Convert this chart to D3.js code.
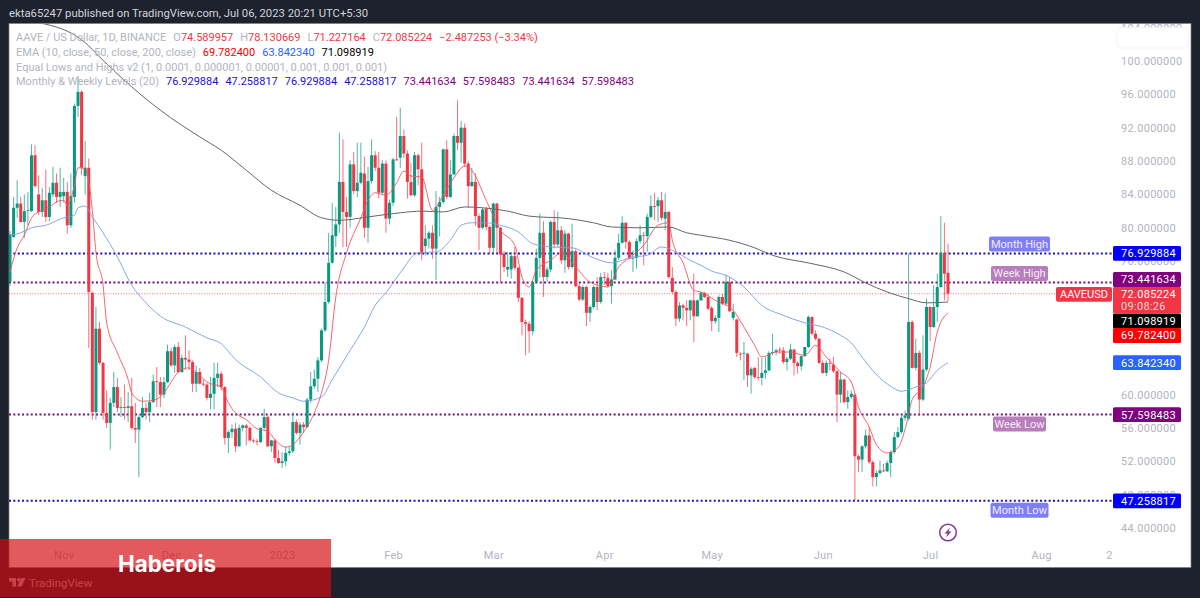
<!DOCTYPE html>
<html>
<head>
<meta charset="utf-8">
<script src="https://cdn.jsdelivr.net/npm/d3@7"></script>
<style>
  html, body { margin: 0; padding: 0; background: #1e222d; }
  svg { display: block; font-family: Roboto, "Liberation Sans", sans-serif; }
  .axis text { fill: #b2b5be; font-size: 11px; letter-spacing: 0.3px; font-family: Roboto, sans-serif; }
  .axis .domain { display: none; }
  .legend text { font-size: 11px; fill: #b2b5be; }
</style>
</head>
<body>
<svg id="chart" width="1200" height="598"></svg>
<script>
/* DATA: one value per daily candle, starting at the left edge of the chart */

const opens = [
  73.5,78.9,82.4,82.9,80.7,82,82,88.7,84,81.9,
  83.3,81.3,84,85.4,83.7,83.8,84.3,80.3,83.7,94.6,
  96.3,86.2,87.2,72.2,57.9,67.9,63.8,57.8,56.6,59,
  60.9,58.4,58.5,58.4,58.6,56,55.8,57.3,58.4,57.9,
  59.1,61.6,61.5,60,61.5,65.2,63.5,65.7,62.7,64.4,
  64.2,63.9,61.3,62.7,61.3,61.2,59.6,60.1,62,62.5,
  60.9,54.8,55.5,55.9,53.8,56,56.3,56,54.5,54.4,
  54.3,56,57.3,53.8,54.5,52.4,51.8,52,53,53.2,
  56.7,55.4,56.4,56.1,59.4,61,61.9,64.1,67.7,71.1,
  75.8,79,80.4,85.5,81.9,81.3,87.6,84.4,85.4,86.5,
  80,85.6,88.7,87.2,84.2,87.7,81.1,83,88.2,88.4,
  91,88.9,85.5,83.9,88.7,87,77.8,78.7,79.4,77.5,
  82.5,83.1,89.4,83.7,86.4,91,90.2,92,87.7,85,
  85.5,81.4,80,82.3,80.1,77.6,82.9,80,76.9,75,
  75,76.6,75.2,71.6,68.7,68.5,67.6,73.5,76.4,79.4,
  74.1,75,80.7,78,79.7,76.1,79.3,75.3,77.2,73,
  71.4,72.9,69.8,70.5,72.9,71.1,74.1,74,73,73.8,
  76.4,78.2,80.6,78.3,76.3,76.4,78.4,79.1,79,81.3,
  82.6,82.6,83.3,81.1,81.9,74,72.3,69.1,70.7,70.4,
  70.1,71.3,69.4,71.3,72.2,71.7,70.4,68.8,69.2,71.7,
  70.9,73.5,69.2,69,64.9,64.9,64.9,62.3,63.2,62.1,
  62,62.6,62.9,65,65.1,65.4,65.3,63.9,64.3,65.4,
  63.8,63.4,64.6,65.7,69.3,67.3,66.7,63.8,62.6,63.8,
  63.6,62.8,60,61.8,59.1,59.7,60,52.6,52.2,53.8,
  55.1,51.9,50.1,50.6,50.9,50.8,51.8,53.1,54.9,55.5,
  57.2,57.1,68.7,63.2,65,59.4,63,70.5,68.1,70.5,
  72.9,77,74.6
];

const highs = [
  79.6,83.7,85.7,83.7,84,84.3,90,89.9,86.3,84.8,
  87,84.9,87.3,86.5,87.2,86,85.5,86.5,94.9,98.2,
  96.5,90.4,88.3,72.4,70.5,68.7,63.9,60.5,59.6,62.7,
  62,59.7,61.2,60.3,62,59,57.5,59.7,59,60.2,
  62.4,63.3,62.1,62.1,66,65.6,66,66.3,64.8,67.1,
  65.3,64.1,63.5,63.2,61.8,61.4,62.1,63.8,63.8,62.8,
  61,55.7,56.4,56.6,56.4,56.4,56.5,56.2,54.7,54.7,
  56.1,58.3,57.5,54.6,54.7,53.4,53.1,53.8,53.8,57.9,
  57,56.7,56.7,59.6,62.7,63,64.5,67.9,73.4,79.4,
  83,82.5,91.4,90.6,83.7,88.1,89.1,90.2,90.2,88.5,
  87.3,90.6,89.2,89.1,88.1,88.1,83.4,88.4,93.3,94.4,
  91.8,89.3,87.8,89.1,88.9,90.2,80.3,79.6,80.3,84.4,
  83.7,89.5,90.5,88.1,91.3,95.3,92.8,92.5,88,87.2,
  86.5,81.7,82.4,82.5,80.3,83,83,80.1,77.2,77.1,
  77.1,77.7,75.3,71.7,69,68.8,73.7,77.5,81.7,80.8,
  75.3,80.9,82.1,81.9,80.2,79.7,79.4,80.5,77.4,73.3,
  73.1,73.1,70.7,73.1,74.1,74.6,74.7,74.6,74.9,77.3,
  79.3,81.4,80.7,78.5,77.3,78.7,80.3,79.5,81.7,83.9,
  84.2,83.7,84.3,84.1,82,75.3,72.5,71.1,70.9,71.3,
  71.4,74.5,71.4,72.3,72.3,72.1,70.6,69.5,71.9,72.1,
  74.4,74.1,70.9,69.1,65.1,66.3,65,63.3,63.3,64.5,
  64.4,64.5,65.2,67.3,65.5,65.7,65.7,64.5,66.1,65.5,
  64,64.7,65.7,69.5,69.4,67.7,66.8,64.1,64.1,64.3,
  64.5,62.9,62.7,61.9,60.5,60.5,60.1,52.8,53.9,55.8,
  56.1,52.1,50.9,52.1,51.7,52.1,53.3,55.5,56.1,57.7,
  58.1,76.9,68.9,66.7,65.3,67.1,71.5,70.6,73.1,74.5,
  81.4,80.6,78.1
];

const lows = [
  73,78.8,81.2,80.6,78.8,80.3,81.9,84.8,81.5,81.3,
  80.7,80.8,83.7,83,82.5,83,79.3,80,83,93.3,
  86.3,84,65.6,57,57,63.6,57,56,53.4,58.5,
  57.9,57.3,57,56.7,55.8,54.2,50.1,57.2,57,56.7,
  59,58.5,58.5,59.6,61.4,63.3,62.6,62.6,62.6,63,
  62.9,60.3,60.3,61.2,61,59.3,58.2,58.2,60.9,60.5,
  54,53,54.8,53.1,53.7,55.6,53.9,54.4,54.2,53.9,
  54.2,55.8,53.7,53.1,51.8,51.7,51.2,51.4,52.7,53,
  55.2,54,55.4,56,59,60.7,60.3,63.9,67.5,70.9,
  75.7,77.7,79.4,77.7,77.7,80,84,83.7,85.2,78.8,
  78.2,85.3,86.8,83.5,84,79.4,80.4,82.6,88,87.2,
  88.4,83.5,83.8,83.7,85.1,76.1,76.7,77.5,76.3,73.7,
  79,82.9,83.4,83.6,86.3,89.3,87.8,87.3,82.4,84.9,
  80.2,77.3,79.8,79.7,76.9,77,77,73.4,74.7,74.1,
  73.9,74.9,71.1,67.1,64.7,65,67.1,73.3,74,71.7,
  73.5,74.7,77.5,77.7,75.7,74.6,75,75.1,72.9,71.2,
  71.2,68.2,68.7,70.3,70.1,70.9,73.1,72.9,70.9,73.7,
  76.1,78.1,77.5,76.2,74.7,75.1,78.1,75.5,77.1,81.1,
  80.9,80.7,80.9,79.7,73.9,72.1,68.2,68.7,68.9,68.2,
  68.9,66.3,69.3,71.2,71.6,70.1,67.6,68.5,67.5,70.7,
  70.6,69.9,68.9,64.5,64.1,61.7,60.9,60.1,61.9,61.7,
  61.1,61.9,62.8,64.7,64.7,64.9,63.7,62.9,64.1,62.3,
  62.5,62.9,64.5,65.6,67.1,66.5,63.7,62.5,62.2,62.9,
  62.6,56.7,59,58.9,58.3,59.5,47.3,50.7,50.7,53.5,
  51.7,49,49,50.4,50.7,50.7,50.1,52.9,54.8,55.3,
  56.9,56.9,63.1,62.9,57.5,59.2,62.8,66.4,68,68.7,
  72.8,71.3,71.2
];

const closes = [
  79.2,82.4,82.9,80.7,82,82.1,88.7,85,81.9,83.3,
  81.3,84.2,85.4,83.7,84.3,84.3,80.3,83.8,94.6,96.3,
  87.2,87.2,72.3,57.9,67.9,63.8,57.8,56.6,59,60.9,
  58.4,58.5,58.4,58.6,56,55.8,57.3,58.4,57.9,59.1,
  61.6,61.5,60,61.5,65.2,63.5,65.7,62.7,64.4,64.2,
  63.9,61.3,62.7,61.3,61.2,59.6,60.1,62,62.5,60.9,
  54.8,55.5,55.9,53.8,56,56.3,56,54.5,54.4,54.3,
  56,57.3,53.8,54.5,52.4,51.8,52,53,53.2,56.7,
  55.4,56.4,56.1,59.4,61,61.9,64.1,67.7,71.1,75.8,
  79.1,80.4,85.5,81.9,81.3,87.6,84.4,85.4,86.6,80,
  85.6,88.7,87.2,84.2,87.7,81.1,83,88.2,88.1,91,
  88.9,85.5,83.9,88.7,87,76.9,78.7,79.4,77.5,82.5,
  83.1,89.4,83.7,86.4,91,90.2,92,87.7,85,85.5,
  81.4,80,82.2,80.1,77.6,82.9,80,76.8,75.3,75.3,
  76.6,75.2,71.6,68.7,68.5,67.6,73.5,76.4,79.4,74.1,
  75,80.7,78,79.7,76.1,79.3,75.3,77.2,73,71.4,
  72.9,69.8,70.5,72.9,71.1,74.1,74,73,73.8,76.4,
  78.2,80.6,78.3,76.3,76.4,78.4,79.1,79,81.3,82.6,
  82.5,83.3,81.2,81.9,74.1,72.3,69.1,70.7,70.4,70.1,
  71.3,69.4,71.3,72.2,71.7,70.3,68.8,69.2,71.7,70.9,
  73.5,70,69.9,65,64.8,65,62.3,63.1,62.1,62,
  62.6,62.9,65,65.1,65.3,65.3,63.9,64.3,65.4,63.8,
  63.4,64.6,65.7,69.3,67.3,66.7,63.8,62.6,63.8,63.7,
  62.8,60,61.8,59.1,59.7,60.1,52.6,52.2,53.8,55.1,
  51.9,50.1,50.6,50.9,50.8,51.8,53.1,54.9,55.5,57.2,
  57.5,68.7,63.2,65,59.4,63,70.5,68.1,70.5,72.9,
  77,74.5,72.1
];

/* moving averages: candle number and price */
const ema10Days = [0,2,4,6,8,11,13,15,16,18,19,21,23,24,26,27,30,33,34,37,40,43,45,47,50,52,55,59,61,63,66,69,72,74,77,79,82,85,87,89,91,94,98,100,102,105,108,110,112,115,118,121,124,127,129,133,137,141,143,145,147,151,154,158,162,167,170,173,177,181,184,185,188,191,193,197,202,205,208,210,214,218,222,225,228,232,235,237,240,242,245,248,250,252,255,257,259,262];
const ema10Values = [74.7,77.6,79.1,81.2,81.9,82.5,83.1,83.3,82.7,85.1,87.2,87.1,82.1,77.1,73.1,68.6,65,61.8,60.2,59.2,59.3,60.2,61.5,62.7,63.2,62.7,61.5,60.9,59,57.8,57,55.9,55.6,54.6,53.7,54,55.5,57.8,60.2,64.1,71.7,77,81.2,83.3,84.2,83.9,85.4,86.8,86.2,86.1,82.1,83.9,86,87.4,86.9,83.3,79.7,77.9,74.1,72.9,74.9,76.1,77,75.3,73.5,72.9,75.3,76.4,77.9,80.3,80.6,78.5,75.8,72.5,72.3,71.3,70.1,68.1,65.9,64.5,65.1,65.1,64.7,65.9,64.5,62.7,61.5,58.5,56.1,54,53,53.6,55.8,59.4,60.9,63.3,67.5,69.8];

const ema50Days = [0,3,6,10,15,18,19,21,23,26,30,34,38,42,49,55,59,63,70,75,79,82,87,90,95,99,102,105,109,114,119,123,126,129,133,137,142,146,151,157,163,168,174,178,182,186,190,193,196,200,205,210,216,222,227,232,235,238,242,246,249,253,256,259,262];
const ema50Values = [79.1,79.4,80,80.3,81.2,81.5,82.4,82.6,81.3,79.4,76.5,73.1,71,69.4,68.1,66.8,66.1,64.2,62.1,60.2,59.6,59.2,59.7,61.8,65.3,68.1,70.7,72.2,74.6,77,77.1,78.5,80.3,80.6,80.6,80.3,79.5,78.1,77.7,77.6,76.4,75.8,76.5,76.7,77.7,77.1,76.1,75.5,74.8,74.3,72.9,70.7,69.5,68.6,68.1,67.1,66.2,64.5,62.4,61,60.4,60.9,61.4,62.9,63.8];

const ema200Days = [8,21,25,34,42,53,59,66,73,81,87,92,100,109,115,121,127,132,139,145,156,163,168,176,184,189,193,201,208,213,224,233,239,245,251,256,262];
const ema200Values = [104.6,102.2,100.5,96.9,94.1,90.9,89.3,86.9,84.5,82.7,81.2,80.9,81.3,81.8,82,81.9,82.5,82.4,82,81.4,81.1,80.6,80.1,80,80.1,79.4,79.1,78.5,77.6,76.7,75.7,74.7,73.4,72.3,71.5,71,71.1];

/* axis labels */
const priceTicks = [44,48,52,56,60,64,68,72,76,80,84,88,92,96,100,104];
const timeTickDays = [15,45,76,107,135,166,196,227,257,288,307];
const timeTickLabels = ["Nov","Dec","2023","Feb","Mar","Apr","May","Jun","Jul","Aug","2"];

/* monthly and weekly levels */
const levelValues = [76.929884, 73.441634, 57.598483, 47.258817];
const levelColors = ["#1d10b8", "#7a0f82", "#7a0f82", "#1d10b8"];
const levelLabels = ["Month High", "Week High", "Week Low", "Month Low"];
const levelLabelFills = ["#7f7ff5", "#b87dbb", "#b87dbb", "#7f7ff5"];
const lastClose = 72.085224;

/* SCALES */

const paneLeft = 9, paneRight = 1113, paneTop = 24, paneBottom = 568, chartRight = 1191;

const xScale = d3.scaleLinear().domain([0, 262]).range([10, 948]);
const yScale = d3.scaleLinear().domain([44, 100]).range([528, 61]);

const svg = d3.select("#chart");

/* BACKGROUND */

svg.append("rect")
  .attr("x", paneLeft).attr("y", paneTop - 0.5)
  .attr("width", chartRight - paneLeft).attr("height", paneBottom - paneTop)
  .attr("fill", "#fff").attr("stroke", "#7b7e88").attr("stroke-width", 0.7);

svg.append("defs").append("clipPath").attr("id", "pane")
  .append("rect")
  .attr("x", paneLeft).attr("y", paneTop)
  .attr("width", paneRight - paneLeft).attr("height", paneBottom - paneTop);

svg.append("defs").append("clipPath").attr("id", "chartClip")
  .append("rect")
  .attr("x", paneLeft).attr("y", paneTop)
  .attr("width", chartRight - paneLeft).attr("height", paneBottom - paneTop);

svg.append("text")
  .attr("x", 9).attr("y", 17)
  .attr("fill", "#d1d4dc")
  .style("font-size", "11.3px")
  .text("ekta65247 published on TradingView.com, Jul 06, 2023 20:21 UTC+5:30");

/* AXES */

const yAxis = d3.axisRight(yScale)
  .tickValues(priceTicks)
  .tickSize(0)
  .tickPadding(0)
  .tickFormat(d3.format(".6f"));

svg.append("g")
  .attr("clip-path", "url(#chartClip)")
  .append("g")
  .attr("class", "axis")
  .attr("transform", "translate(1121,0)")
  .call(yAxis);

const xAxis = d3.axisBottom(xScale)
  .tickValues(timeTickDays)
  .tickSize(0)
  .tickPadding(0)
  .tickFormat((d, i) => timeTickLabels[i]);

svg.append("g")
  .attr("class", "axis")
  .attr("transform", "translate(0,551)")
  .call(xAxis);

/* box in the top right corner of the price scale */
svg.append("rect")
  .attr("x", 1117).attr("y", 27.5)
  .attr("width", 71).attr("height", 20.5).attr("rx", 3)
  .attr("fill", "#fff").attr("stroke", "#f2f3f7");

/* LEVEL LINES */

const plot = svg.append("g").attr("clip-path", "url(#pane)");

plot.selectAll("line.level")
  .data(levelValues)
  .join("line")
  .attr("class", "level")
  .attr("x1", paneLeft).attr("x2", paneRight)
  .attr("y1", d => yScale(d)).attr("y2", d => yScale(d))
  .attr("stroke", (d, i) => levelColors[i])
  .attr("stroke-width", 2)
  .attr("stroke-dasharray", "2 2.35");

plot.append("line")
  .attr("x1", paneLeft).attr("x2", paneRight)
  .attr("y1", yScale(lastClose)).attr("y2", yScale(lastClose))
  .attr("stroke", "#f23645")
  .attr("stroke-opacity", 0.75)
  .attr("stroke-dasharray", "1 1.6");

/* CANDLES */

const upColor = "#089981", downColor = "#f23645";
const candleColor = i => closes[i] >= opens[i] ? upColor : downColor;
const candles = plot.append("g").selectAll("g")
  .data(d3.range(opens.length))
  .join("g");

candles.append("line")
  .attr("x1", i => xScale(i)).attr("x2", i => xScale(i))
  .attr("y1", i => yScale(highs[i])).attr("y2", i => yScale(lows[i]))
  .attr("stroke", candleColor)
  .attr("stroke-opacity", 0.8)
  .attr("stroke-width", 0.9);

candles.append("rect")
  .attr("x", i => xScale(i) - 1.5)
  .attr("width", 3)
  .attr("y", i => yScale(Math.max(opens[i], closes[i])))
  .attr("height", i => Math.max(0.8, Math.abs(yScale(opens[i]) - yScale(closes[i]))))
  .attr("fill", candleColor);

/* MOVING AVERAGES */

const emaLine = days => d3.line()
  .x((d, i) => xScale(days[i]))
  .y(d => yScale(d))
  .curve(d3.curveMonotoneX);

plot.append("path").attr("d", emaLine(ema10Days)(ema10Values))
  .attr("fill", "none").attr("stroke", "#f0545c").attr("stroke-width", 0.9);
plot.append("path").attr("d", emaLine(ema50Days)(ema50Values))
  .attr("fill", "none").attr("stroke", "#7c9be8").attr("stroke-width", 0.9);
plot.append("path").attr("d", emaLine(ema200Days)(ema200Values))
  .attr("fill", "none").attr("stroke", "#666666").attr("stroke-width", 1);

/* LEGEND */

const legend = svg.append("g").attr("class", "legend");

function legendRow(y, parts) {
  const row = legend.append("text").attr("x", 16).attr("y", y);
  parts.forEach(p => {
    row.append("tspan")
      .attr("dx", p.gap || 0)
      .style("fill", p.color || "#b2b5be")
      .text(p.text);
  });
}

const red = "#f23645", navy = "#1d10d0", plum = "#800080";
legendRow(41, [
  {text: "AAVE / US Dollar, 1D, BINANCE"},
  {text: "O", gap: 7}, {text: "74.589957", color: red},
  {text: "H", gap: 7}, {text: "78.130669", color: red},
  {text: "L", gap: 7}, {text: "71.227164", color: red},
  {text: "C", gap: 7}, {text: "72.085224", color: red},
  {text: "−2.487253 (−3.34%)", color: red, gap: 7}
]);
legendRow(56, [
  {text: "EMA (10, close, 50, close, 200, close)"},
  {text: "69.782400", color: "#f00000", gap: 7},
  {text: "63.842340", color: "#2962ff", gap: 7},
  {text: "71.098919", color: "#000000", gap: 7}
]);
legendRow(70.5, [
  {text: "Equal Lows and Highs v2 (1, 0.0001, 0.000001, 0.00001, 0.001, 0.001, 0.001)"}
]);
legendRow(85, [
  {text: "Monthly & Weekly Levels (20)"},
  {text: "76.929884", color: navy, gap: 7},
  {text: "47.258817", color: navy, gap: 7},
  {text: "76.929884", color: navy, gap: 7},
  {text: "47.258817", color: navy, gap: 7},
  {text: "73.441634", color: plum, gap: 7},
  {text: "57.598483", color: plum, gap: 7},
  {text: "73.441634", color: plum, gap: 7},
  {text: "57.598483", color: plum, gap: 7}
]);

/* LEVEL NAME TAGS */

const labelOffsets = [-9.5, -9, 9.5, 9.5];
const labelWidths = [61, 57, 53, 58];

levelLabels.forEach((label, i) => {
  const cy = yScale(levelValues[i]) + labelOffsets[i];
  const cx = 1019.5;
  svg.append("rect")
    .attr("x", cx - labelWidths[i] / 2).attr("y", cy - 7.5)
    .attr("width", labelWidths[i]).attr("height", 15).attr("rx", 2)
    .attr("fill", levelLabelFills[i]);
  svg.append("text")
    .attr("x", cx).attr("y", cy + 4)
    .attr("text-anchor", "middle")
    .attr("fill", "#f3e9f7")
    .style("font-size", "11px")
    .text(label);
});

/* PRICE TAGS */

function priceTag(value, color, shift) {
  const cy = yScale(value) + shift;
  svg.append("rect")
    .attr("x", 1113).attr("y", cy - 7.4)
    .attr("width", 68).attr("height", 14.8).attr("rx", 1.5)
    .attr("fill", color);
  svg.append("text")
    .attr("x", 1121).attr("y", cy + 4)
    .attr("fill", "#fff")
    .style("font-size", "11px")
    .style("letter-spacing", "0.3px")
    .text(d3.format(".6f")(value));
}

priceTag(76.929884, "#0000ff", 0);
priceTag(73.441634, "#800080", -3);
priceTag(71.098919, "#000000", 19);
priceTag(69.782400, "#ff0000", 22.5);
priceTag(63.842340, "#2962ff", 0);
priceTag(57.598483, "#800080", 0);
priceTag(47.258817, "#0000ff", 0);

svg.append("rect")
  .attr("x", 1113).attr("y", 287).attr("width", 68).attr("height", 26.5).attr("rx", 1.5)
  .attr("fill", "#f23645");
svg.append("text")
  .attr("x", 1121).attr("y", 298).attr("fill", "#fff")
  .style("font-size", "11px").style("letter-spacing", "0.3px")
  .text(d3.format(".6f")(lastClose));
svg.append("text")
  .attr("x", 1121).attr("y", 310).attr("fill", "#fbd5d9")
  .style("font-size", "11px").style("letter-spacing", "0.3px")
  .text("09:08:26");

svg.append("rect")
  .attr("x", 1056).attr("y", 287).attr("width", 56).attr("height", 14.8).attr("rx", 2)
  .attr("fill", "#f23645");
svg.append("text")
  .attr("x", 1084).attr("y", 298).attr("text-anchor", "middle").attr("fill", "#fff")
  .style("font-size", "11px")
  .text("AAVEUSD");

/* LIGHTNING ICON */

const icon = svg.append("g").attr("transform", "translate(948,532.5)");
icon.append("circle").attr("r", 8.3)
  .attr("fill", "#fff").attr("stroke", "#7f3f98").attr("stroke-width", 1.5);
icon.append("path").attr("d", "M2,-5 L-3.5,1 L-0.5,1 L-2,5 L3.5,-1 L0.5,-1 Z").attr("fill", "#7f3f98");

/* TRADINGVIEW LOGO */

const logo = svg.append("g").attr("transform", "translate(9,578)").attr("fill", "#b2b5be");
logo.append("path").attr("d", "M0,0 H7 V8.5 H3.5 V3.5 H0 Z");
logo.append("circle").attr("cx", 9.7).attr("cy", 1.8).attr("r", 1.8);
logo.append("path").attr("d", "M12,0 H16.5 L12.5,8.5 H8.2 Z");
svg.append("text")
  .attr("x", 29).attr("y", 587)
  .attr("fill", "#b2b5be")
  .style("font-size", "11.5px")
  .text("TradingView");

/* BANNER ON TOP OF EVERYTHING */

svg.append("rect")
  .attr("x", 0).attr("y", 539)
  .attr("width", 331).attr("height", 58)
  .attr("fill", "rgb(213,11,16)")
  .attr("fill-opacity", 0.676);

svg.append("text")
  .attr("x", 118).attr("y", 572)
  .attr("fill", "#fff")
  .style("font-family", "Inter, Roboto, sans-serif")
  .style("font-size", "22.4px")
  .style("font-weight", 700)
  .text("Haberois");
</script>
</body>
</html>
